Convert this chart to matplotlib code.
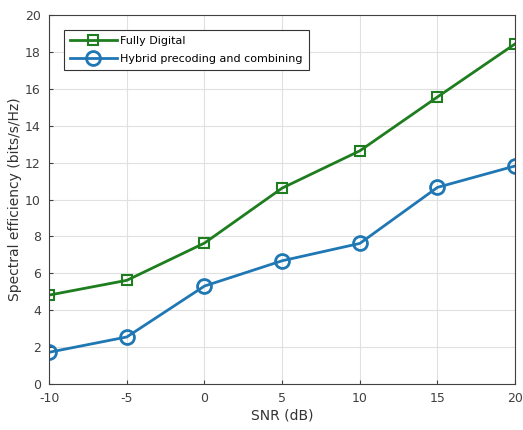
import matplotlib
matplotlib.use("Agg")
import matplotlib.pyplot as plt

plt.rcParams['axes.unicode_minus'] = False

snr = [-10, -5, 0, 5, 10, 15, 20]
fully_digital = [4.82, 5.62, 7.64, 10.62, 12.64, 15.56, 18.44]
hybrid = [1.72, 2.55, 5.31, 6.68, 7.62, 10.66, 11.82]

fig = plt.figure(figsize=(5.23, 4.30), dpi=100)
ax = fig.add_axes([0.094, 0.107, 0.891, 0.858])

ax.plot(snr, fully_digital, color='#1e7d1e', lw=2, marker='s', ms=7,
        mfc='none', mew=1.5, label='Fully Digital')
ax.plot(snr, hybrid, color='#1f77b4', lw=2, marker='o', ms=10,
        mfc='none', mew=2, label='Hybrid precoding and combining')

ax.set_xlim(-10, 20)
ax.set_ylim(0, 20)
ax.set_xticks(snr)
ax.set_yticks(range(0, 21, 2))
ax.grid(True, color='#e0e0e0', lw=0.8)
ax.tick_params(labelsize=9, colors='#404040', direction='in', length=3)
ax.tick_params(axis='x', pad=6)
ax.tick_params(axis='y', pad=6)
for s in ax.spines.values():
    s.set_color('#404040')
ax.set_xlabel('SNR (dB)', fontsize=10, color='#333333', labelpad=2)
ax.set_ylabel('Spectral efficiency (bits/s/Hz)', fontsize=10, color='#333333', labelpad=2)

leg = ax.legend(loc='upper left', bbox_to_anchor=(0.02, 0.975), fontsize=8,
                fancybox=False, edgecolor='#333333', framealpha=1, numpoints=1,
                handlelength=4.2, borderpad=0.55, labelspacing=0.7, handletextpad=0.3)
leg.get_frame().set_linewidth(0.8)

fig.savefig('out.png', dpi=100)
